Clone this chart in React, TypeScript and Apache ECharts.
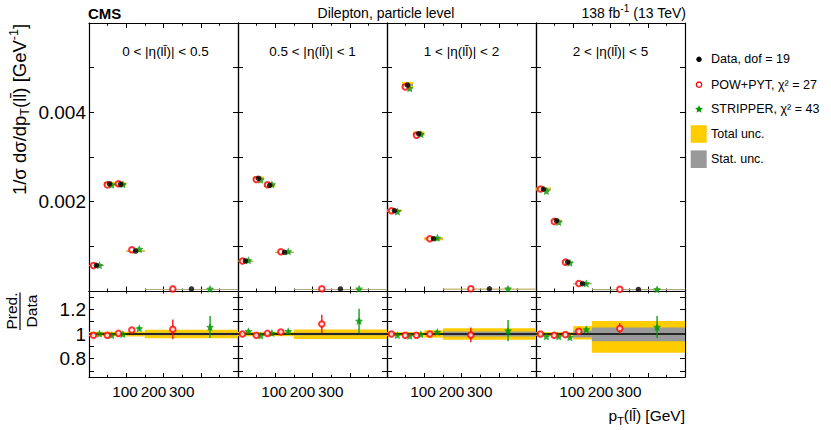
import React, { useEffect, useRef } from "react";
import * as echarts from "echarts";

const FONT = "'Liberation Sans', Arial, Helvetica, sans-serif";

// ---------- data ----------
const etaLabels = [
  "0 < |η(ll\u0304)| < 0.5",
  "0.5 < |η(ll\u0304)| < 1",
  "1 < |η(ll\u0304)| < 2",
  "2 < |η(ll\u0304)| < 5",
];
const ptEdges = [0, 40, 70, 100, 150, 400];
const ptTickLabels = [100, 200, 300];
const yTickLabels = ["0.002", "0.004"];
const ratioTicks = [0.7, 0.8, 0.9, 1.0, 1.1, 1.2, 1.3];
const ratioTickLabels = [0.8, 1, 1.2];
const legendLabels = [
  "Data, dof = 19",
  "POW+PYT, χ² = 27",
  "STRIPPER, χ² = 43",
  "Total unc.",
  "Stat. unc.",
];

// 1/σ dσ/dpT(ll) in units of 1e-3 GeV^-1
const dataEta1 = [0.575, 2.4, 2.39, 0.895, 0.045];
const dataEta2 = [0.672, 2.523, 2.366, 0.866, 0.045];
const dataEta3 = [1.798, 4.612, 3.521, 1.171, 0.05];
const dataEta4 = [2.283, 1.574, 0.649, 0.163, 0.035];
const dataVals = [dataEta1, dataEta2, dataEta3, dataEta4];

// Pred./Data
const powRatio = [
  [0.989, 0.99, 1.005, 1.033, 1.038],
  [1.0, 0.99, 1.005, 1.016, 1.082],
  [1.0, 0.99, 0.99, 1.0, 0.992],
  [1.0, 0.99, 0.995, 1.022, 1.044],
];
const stripRatio = [
  [1.003, 0.99, 1.0, 1.046, 1.057],
  [1.022, 0.987, 1.008, 1.022, 1.106],
  [0.99, 0.984, 0.997, 1.016, 1.028],
  [0.98, 0.98, 0.973, 1.038, 1.057],
];
const powErr = [
  [0.004, 0.004, 0.004, 0.006, 0.08],
  [0.004, 0.004, 0.004, 0.006, 0.075],
  [0.004, 0.004, 0.004, 0.006, 0.06],
  [0.004, 0.005, 0.006, 0.01, 0.045],
];
const stripErr = [
  [0.005, 0.005, 0.006, 0.01, 0.09],
  [0.005, 0.005, 0.006, 0.01, 0.1],
  [0.005, 0.005, 0.006, 0.01, 0.085],
  [0.005, 0.006, 0.008, 0.015, 0.09],
];
// relative uncertainties of the data (up / down)
const totUp = [
  [0.018, 0.018, 0.018, 0.02, 0.035],
  [0.018, 0.015, 0.015, 0.018, 0.036],
  [0.015, 0.015, 0.015, 0.03, 0.046],
  [0.015, 0.015, 0.015, 0.064, 0.106],
];
const totDown = [
  [0.018, 0.018, 0.018, 0.02, 0.035],
  [0.018, 0.015, 0.015, 0.018, 0.04],
  [0.015, 0.015, 0.015, 0.03, 0.046],
  [0.015, 0.015, 0.015, 0.045, 0.152],
];
const statUp = [
  [0.005, 0.005, 0.005, 0.006, 0.01],
  [0.005, 0.005, 0.005, 0.006, 0.01],
  [0.005, 0.005, 0.005, 0.008, 0.02],
  [0.006, 0.006, 0.008, 0.028, 0.052],
];
const statDown = [
  [0.005, 0.005, 0.005, 0.006, 0.01],
  [0.005, 0.005, 0.005, 0.006, 0.01],
  [0.005, 0.005, 0.005, 0.008, 0.02],
  [0.006, 0.006, 0.008, 0.028, 0.06],
];

// ---------- layout ----------
const L0 = 89;
const PW = 149;
const TOP = 23;
const TH = 268;
const RH = 86;
const YELLOW = "#ffcc00";
const GRAY = "#999999";
const RED = "#ff0000";
const GREEN = "#009900";
const STAR =
  "path://M0,-10L2.94,-4.05L9.51,-3.09L4.76,1.55L5.88,8.09L0,5L-5.88,8.09L-4.76,1.55L-9.51,-3.09L-2.94,-4.05Z";

const centers = ptEdges.slice(0, -1).map((e, k) => (e + ptEdges[k + 1]) / 2);
const widths = ptEdges.slice(0, -1).map((e, k) => ptEdges[k + 1] - e);

const matchLabel = (v: number, list: string[]) => {
  const hit = list.find((t) => Math.abs(parseFloat(t) - v) < 1e-9);
  return hit === undefined ? "" : hit;
};

function buildOption() {
  const grids: any[] = [];
  for (let i = 0; i < 4; i++) grids.push({ left: L0 + PW * i, top: TOP, width: PW, height: TH });
  for (let i = 0; i < 4; i++) grids.push({ left: L0 + PW * i, top: TOP + TH, width: PW, height: RH });

  const axLine = { show: true, onZero: false, lineStyle: { color: "#000", width: 1.2 } };
  const tickStyle = { color: "#000", width: 1 };

  const xAxes: any[] = [];
  for (let g = 0; g < 8; g++) {
    const ratio = g >= 4;
    ["bottom", "top"].forEach((pos) => {
      const major = ratio ? (pos === "bottom" ? 4 : 2.5) : pos === "bottom" ? 4.5 : 5;
      xAxes.push({
        type: "value",
        gridIndex: g,
        position: pos,
        min: 0,
        max: 400,
        interval: 100,
        axisLine: axLine,
        axisTick: { show: true, inside: true, length: major, lineStyle: tickStyle },
        minorTick: { show: true, splitNumber: 2, length: major * 0.55, lineStyle: tickStyle },
        axisLabel: { show: false },
        splitLine: { show: false },
        minorSplitLine: { show: false },
      });
    });
  }
  // label axes for the pT labels under the ratio panels
  for (let g = 0; g < 4; g++) {
    xAxes.push({
      type: "value",
      gridIndex: 4 + g,
      position: "bottom",
      min: -26.8,
      max: 497.9,
      axisLine: { show: false, onZero: false },
      axisTick: { show: false },
      splitLine: { show: false },
      axisLabel: {
        show: true,
        customValues: ptTickLabels,
        hideOverlap: false,
        showMinLabel: true,
        showMaxLabel: true,
        color: "#000",
        fontSize: 15.3,
        fontFamily: FONT,
        margin: 7,
        formatter: (v: number) => String(Math.round(v)),
      },
    });
  }

  const yAxes: any[] = [];
  for (let g = 0; g < 8; g++) {
    const ratio = g >= 4;
    ["left", "right"].forEach((pos) => {
      const showLab = pos === "left" && (g === 0 || g === 4);
      const base: any = {
        type: "value",
        gridIndex: g,
        position: pos,
        axisLine: axLine,
        axisTick: { show: true, inside: true, length: 5, lineStyle: tickStyle },
        splitLine: { show: false },
        axisLabel: {
          show: showLab,
          color: "#000",
          fontSize: 19,
          fontFamily: FONT,
          margin: 3,
        },
      };
      if (ratio) {
        base.min = 0.65;
        base.max = 1.35;
        base.axisTick.customValues = ratioTicks;
        base.axisLabel.customValues = ratioTickLabels;
        base.axisLabel.showMinLabel = true;
        base.axisLabel.showMaxLabel = true;
        base.axisLabel.hideOverlap = false;
        base.axisLabel.formatter = (v: number) => String(parseFloat(v.toFixed(2)));
      } else {
        base.min = 0;
        base.max = 0.006;
        base.interval = 0.001;
        base.axisLabel.showMinLabel = false;
        base.axisLabel.showMaxLabel = false;
        base.axisLabel.formatter = (v: number) => matchLabel(v, yTickLabels);
      }
      yAxes.push(base);
    });
  }

  const series: any[] = [];
  const band = (g: number, items: number[][], color: string, z: number) => ({
    type: "custom",
    xAxisIndex: 2 * g,
    yAxisIndex: 2 * g,
    z,
    silent: true,
    clip: true,
    encode: { x: [0, 1], y: [2, 3] },
    renderItem: (_p: any, api: any) => {
      const a = api.coord([api.value(0), api.value(3)]);
      const b = api.coord([api.value(1), api.value(2)]);
      return {
        type: "rect",
        shape: { x: a[0], y: a[1], width: b[0] - a[0], height: Math.max(b[1] - a[1], 0.8) },
        style: { fill: color },
      };
    },
    data: items,
  });
  const errBars = (g: number, items: number[][], color: string) => ({
    type: "custom",
    xAxisIndex: 2 * g,
    yAxisIndex: 2 * g,
    z: 3,
    silent: true,
    clip: true,
    encode: { x: 0, y: [1, 2] },
    renderItem: (_p: any, api: any) => {
      const a = api.coord([api.value(0), api.value(1)]);
      const b = api.coord([api.value(0), api.value(2)]);
      return {
        type: "line",
        shape: { x1: a[0], y1: a[1], x2: b[0], y2: b[1] },
        style: { stroke: color, lineWidth: 1.3 },
      };
    },
    data: items,
  });
  const scatter = (g: number, pts: number[][], symbol: string, size: number, style: any, z: number) => ({
    type: "scatter",
    xAxisIndex: 2 * g,
    yAxisIndex: 2 * g,
    symbol,
    symbolSize: size,
    itemStyle: style,
    z,
    silent: true,
    data: pts,
  });

  const redStyle = { color: RED, borderColor: RED, borderWidth: 1.3 };
  const greenStyle = { color: GREEN };

  for (let i = 0; i < 4; i++) {
    const d = dataVals[i].map((v) => v * 1e-3);
    const redX = centers.map((c, k) => c - 0.2 * widths[k]);
    const greenX = centers.map((c, k) => c + 0.2 * widths[k]);
    // ---- top panel ----
    series.push(
      band(
        i,
        d.map((v, k) => [ptEdges[k], ptEdges[k + 1], v * (1 - totDown[i][k]), v * (1 + totUp[i][k])]),
        YELLOW,
        1
      )
    );
    series.push(
      band(
        i,
        d.map((v, k) => [ptEdges[k], ptEdges[k + 1], v * (1 - statDown[i][k]), v * (1 + statUp[i][k])]),
        GRAY,
        2
      )
    );
    series.push(scatter(i, d.map((v, k) => [greenX[k], v * stripRatio[i][k]]), STAR, 8, greenStyle, 4));
    series.push(scatter(i, d.map((v, k) => [redX[k], v * powRatio[i][k]]), "emptyCircle", 5.5, redStyle, 4));
    series.push(scatter(i, d.map((v, k) => [centers[k], v]), "circle", 5.5, { color: "#000" }, 5));

    // ---- ratio panel ----
    const g = 4 + i;
    series.push(
      band(g, centers.map((_c, k) => [ptEdges[k], ptEdges[k + 1], 1 - totDown[i][k], 1 + totUp[i][k]]), YELLOW, 1)
    );
    series.push(
      band(g, centers.map((_c, k) => [ptEdges[k], ptEdges[k + 1], 1 - statDown[i][k], 1 + statUp[i][k]]), GRAY, 2)
    );
    series.push({
      type: "line",
      xAxisIndex: 2 * g,
      yAxisIndex: 2 * g,
      data: [
        [ptEdges[0], 1],
        [ptEdges[ptEdges.length - 1], 1],
      ],
      symbol: "none",
      silent: true,
      z: 2.5,
      lineStyle: { color: "#000", width: 1.5 },
    });
    series.push(
      errBars(g, powRatio[i].map((r, k) => [redX[k], r - powErr[i][k], r + powErr[i][k]]), RED)
    );
    series.push(
      errBars(g, stripRatio[i].map((r, k) => [greenX[k], r - stripErr[i][k], r + stripErr[i][k]]), GREEN)
    );
    series.push(scatter(g, stripRatio[i].map((r, k) => [greenX[k], r]), STAR, 8, greenStyle, 4));
    series.push(scatter(g, powRatio[i].map((r, k) => [redX[k], r]), "emptyCircle", 5.5, redStyle, 4));
  }

  // ---------- texts & legend ----------
  const txt = (x: number, y: number, text: string, size: number, align: string, extra: any = {}) => ({
    type: "text",
    x,
    y,
    silent: true,
    style: {
      text,
      fill: "#000",
      fontSize: size,
      fontFamily: FONT,
      align,
      verticalAlign: "middle",
      textAlign: align,
      textVerticalAlign: "middle",
      ...extra,
    },
  });

  const graphic: any[] = [];
  graphic.push(txt(88, 13.5, "CMS", 15, "left", { fontWeight: "bold" }));
  graphic.push(txt(L0 + 2 * PW - 1, 13, "Dilepton, particle level", 14, "center"));
  graphic.push(
    txt(L0 + 4 * PW + 1, 13, "{n|138 fb}{sup|-1}{n| (13 TeV)}", 14, "right", {
      rich: {
        n: { fontSize: 14, fontFamily: FONT, lineHeight: 20, fill: "#000", color: "#000" },
        sup: { fontSize: 10, fontFamily: FONT, lineHeight: 10, verticalAlign: "top", fill: "#000", color: "#000" },
      },
    })
  );
  etaLabels.forEach((lab, i) => {
    graphic.push(txt(L0 + PW * i + PW / 2 + (i === 0 ? 2 : 0), 51.5, lab, 13.5, "center"));
  });
  // y title
  graphic.push({
    ...txt(19, 109.5, "{n|1/σ dσ/dp}{sub|T}{n|(ll\u0304) [GeV}{sup|-1}{n|]}", 18.5, "center", {
      rich: {
        n: { fontSize: 18.5, fontFamily: FONT, lineHeight: 24, fill: "#000", color: "#000" },
        sub: { fontSize: 12.5, fontFamily: FONT, lineHeight: 12, verticalAlign: "bottom", fill: "#000", color: "#000" },
        sup: { fontSize: 12.5, fontFamily: FONT, lineHeight: 12, verticalAlign: "top", fill: "#000", color: "#000" },
      },
    }),
    rotation: Math.PI / 2,
  });
  // ratio title
  graphic.push({ ...txt(11, 311, "Pred.", 15.5, "center"), rotation: Math.PI / 2 });
  graphic.push({ ...txt(31, 311, "Data", 15.5, "center"), rotation: Math.PI / 2 });
  graphic.push({
    type: "line",
    silent: true,
    shape: { x1: 20, y1: 292.5, x2: 20, y2: 330 },
    style: { stroke: "#000", lineWidth: 1.2 },
  });
  // x title
  graphic.push(
    txt(685, 415.5, "{n|p}{sub|T}{n|(ll\u0304) [GeV]}", 15.5, "right", {
      rich: {
        n: { fontSize: 15.5, fontFamily: FONT, lineHeight: 22, fill: "#000", color: "#000" },
        sub: { fontSize: 11, fontFamily: FONT, lineHeight: 11, verticalAlign: "bottom", fill: "#000", color: "#000" },
      },
    })
  );

  // legend
  const LX = 699;
  const LT = 711;
  const ly = [59.3, 84.7, 109.3, 134, 159.2];
  graphic.push({ type: "circle", silent: true, shape: { cx: LX, cy: ly[0], r: 2.7 }, style: { fill: "#000" } });
  graphic.push({
    type: "circle",
    silent: true,
    shape: { cx: LX, cy: ly[1], r: 2.7 },
    style: { fill: "#fff", stroke: RED, lineWidth: 1.3 },
  });
  const starPts: number[][] = [];
  for (let k = 0; k < 10; k++) {
    const a = -Math.PI / 2 + (k * Math.PI) / 5;
    const rr = k % 2 ? 1.9 : 4.2;
    starPts.push([LX + rr * Math.cos(a), ly[2] + rr * Math.sin(a)]);
  }
  graphic.push({ type: "polygon", silent: true, shape: { points: starPts }, style: { fill: GREEN } });
  graphic.push({
    type: "rect",
    silent: true,
    shape: { x: 690.7, y: ly[3] - 8.8, width: 16, height: 17.6 },
    style: { fill: YELLOW },
  });
  graphic.push({
    type: "rect",
    silent: true,
    shape: { x: 690.7, y: ly[4] - 8.8, width: 16, height: 17.6 },
    style: { fill: GRAY },
  });
  legendLabels.forEach((lab, k) => graphic.push(txt(LT, ly[k], lab, 12.5, "left")));

  return {
    animation: false,
    backgroundColor: "#fff",
    textStyle: { fontFamily: FONT },
    grid: grids,
    xAxis: xAxes,
    yAxis: yAxes,
    series,
    graphic,
  };
}

export default function App() {
  const ref = useRef<HTMLDivElement>(null);
  useEffect(() => {
    if (!ref.current) return;
    const chart = echarts.init(ref.current, undefined, { renderer: "svg" });
    chart.setOption(buildOption() as any);
    return () => chart.dispose();
  }, []);
  return (
    <div
      ref={ref}
      style={{ position: "fixed", left: 0, top: 0, width: 831, height: 430, background: "#fff" }}
    />
  );
}
